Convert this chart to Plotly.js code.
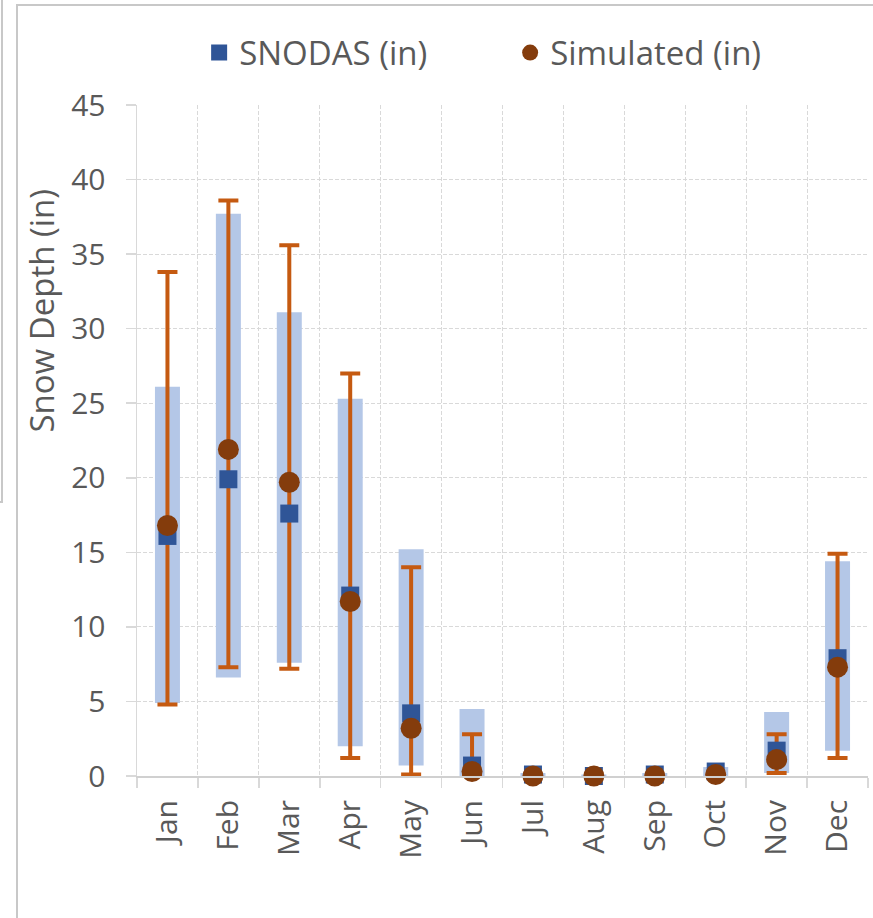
<!DOCTYPE html>
<html>
<head>
<meta charset="utf-8">
<script src="https://cdn.plot.ly/plotly-3.0.1.min.js"></script>
<style>
  html, body { margin: 0; padding: 0; background: #ffffff; }
  #chart { position: absolute; left: 0; top: 0; width: 873px; height: 918px; }
  .frame { position: absolute; pointer-events: none; border-color: #c8c8c8; border-style: solid; }
</style>
</head>
<body>
<div id="chart"></div>
<div class="frame" style="left:16px; top:4px; width:870px; height:930px; border-width:2px 0 0 2px;"></div>
<div class="frame" style="left:-10px; top:-10px; width:11px; height:511px; border-width:0 2px 2px 0;"></div>
<script>
// ---- data ----
const months = ['Jan','Feb','Mar','Apr','May','Jun','Jul','Aug','Sep','Oct','Nov','Dec'];
const snodasMean = [16.1, 19.9, 17.6, 12.1, 4.2, 0.7, 0.1, 0.0, 0.1, 0.3, 1.7, 7.9];
const snodasMin  = [4.9, 6.6, 7.6, 2.0, 0.7, 0.0, 0.0, 0.0, 0.0, 0.0, 0.2, 1.7];
const snodasMax  = [26.1, 37.7, 31.1, 25.3, 15.2, 4.5, 0.2, 0.1, 0.2, 0.6, 4.3, 14.4];
const simMean = [16.8, 21.9, 19.7, 11.7, 3.2, 0.3, 0.0, 0.0, 0.0, 0.1, 1.1, 7.3];
const simMin  = [4.8, 7.3, 7.2, 1.2, 0.1, 0.0, 0.0, 0.0, 0.0, 0.0, 0.2, 1.2];
const simMax  = [33.8, 38.6, 35.6, 27.0, 14.0, 2.8, 0.0, 0.0, 0.0, 0.1, 2.8, 14.9];
const yTicks = [0, 5, 10, 15, 20, 25, 30, 35, 40, 45];

const up = (mx, m) => mx.map((v, i) => Math.max(0, v - m[i]));
const down = (mn, m) => mn.map((v, i) => Math.max(0, m[i] - v));

const FONT = 'Open Sans, Noto Sans, sans-serif';
const GREY = '#595959';

const traces = [
  { // SNODAS range band
    x: months, y: snodasMean, type: 'scatter', mode: 'markers',
    marker: { size: 2, opacity: 0 }, showlegend: false, hoverinfo: 'skip', cliponaxis: false,
    error_y: { type: 'data', symmetric: false, array: up(snodasMax, snodasMean),
               arrayminus: down(snodasMin, snodasMean), color: '#B4C7E7', thickness: 25, width: 0 }
  },
  { // Simulated range whiskers
    x: months, y: simMean, type: 'scatter', mode: 'markers',
    marker: { size: 2, opacity: 0 }, showlegend: false, hoverinfo: 'skip', cliponaxis: false,
    error_y: { type: 'data', symmetric: false, array: up(simMax, simMean),
               arrayminus: down(simMin, simMean), color: '#C55A11', thickness: 4, width: 10 }
  },
  {
    x: months, y: snodasMean, type: 'scatter', mode: 'markers', name: 'SNODAS (in)',
    marker: { symbol: 'square', size: 18, color: '#2F5597' }, cliponaxis: false
  },
  {
    x: months, y: simMean, type: 'scatter', mode: 'markers', name: 'Simulated (in)',
    marker: { symbol: 'circle', size: 21, color: '#843C0C' }, cliponaxis: false
  }
];

const layout = {
  width: 873, height: 918,
  margin: { l: 137, r: 5, t: 105, b: 142 },
  paper_bgcolor: 'rgba(0,0,0,0)', plot_bgcolor: '#ffffff',
  font: { family: FONT, color: GREY, size: 30 },
  showlegend: true,
  legend: { orientation: 'h', x: 0.085, xanchor: 'left', y: 1.078, yanchor: 'middle',
            entrywidth: 266, entrywidthmode: 'pixels',
            font: { family: FONT, size: 33, color: GREY }, bgcolor: 'rgba(0,0,0,0)',
            itemclick: false, itemdoubleclick: false },
  xaxis: {
    type: 'category', categoryorder: 'array', categoryarray: months,
    tickson: 'boundaries', ticks: 'outside', ticklen: 10, tickcolor: '#d9d9d9', tickwidth: 1.5,
    ticklabelstandoff: 10,
    showgrid: true, gridcolor: '#d9d9d9', griddash: '4px,2px', gridwidth: 1,
    showline: true, linecolor: '#d0d0d0', linewidth: 2,
    tickangle: -90, tickfont: { family: FONT, size: 30, color: GREY },
    range: [-0.5, 11.5], fixedrange: true
  },
  yaxis: {
    range: [0, 45], tickvals: yTicks, ticktext: yTicks.map(String),
    ticks: 'outside', ticklen: 10, tickcolor: '#d9d9d9', tickwidth: 1.5, ticklabelstandoff: 14,
    showgrid: true, gridcolor: '#d9d9d9', griddash: '4px,2px', gridwidth: 1,
    showline: true, linecolor: '#d9d9d9', linewidth: 1.5, zeroline: false,
    tickfont: { family: FONT, size: 30, color: GREY }, fixedrange: true
  },
  annotations: [{
    text: 'Snow Depth (in)', textangle: -90, xref: 'paper', yref: 'paper',
    x: -0.131, y: 0.694, xanchor: 'center', yanchor: 'middle', showarrow: false,
    font: { family: FONT, size: 33, color: GREY }
  }]
};

Plotly.newPlot('chart', traces, layout, { displayModeBar: false, staticPlot: true });
</script>
</body>
</html>
